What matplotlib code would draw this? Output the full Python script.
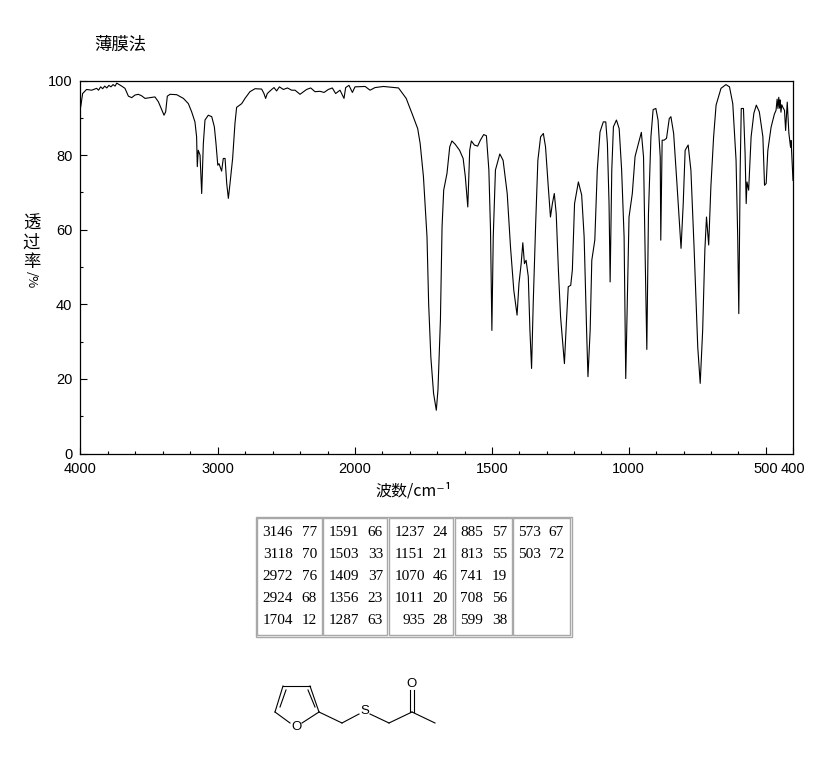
import matplotlib
matplotlib.use("Agg")
import matplotlib.pyplot as plt
import numpy as np

CJK = ['Noto Sans CJK SC', 'DejaVu Sans']
TICK_FONT = 'Liberation Sans'

# spectrum: wavenumber (cm-1) and transmittance (%)
wavenumber = [
    4000, 3993, 3981, 3952, 3915, 3879, 3865, 3850, 3835, 3820, 3805, 3790, 3775, 3760, 3745, 3733,
    3697, 3673, 3648, 3624, 3600, 3576,
    3552, 3527, 3491, 3455, 3430, 3406, 3389, 3377, 3365, 3345, 3297, 3248, 3212, 3188, 3164, 3152,
    3147, 3140, 3127, 3115, 3103, 3091, 3067, 3042, 3023, 3011, 2998, 2989, 2970, 2958, 2945, 2933,
    2921, 2909, 2890, 2873, 2861, 2824, 2800, 2764, 2727, 2679, 2662, 2650, 2638, 2606, 2589, 2570,
    2550, 2521, 2491, 2461, 2436, 2400, 2352, 2322, 2291, 2255, 2225, 2194, 2165, 2141, 2109, 2080,
    2068, 2044, 2019, 2000, 1963, 1945, 1927, 1896, 1841,
    1813, 1792, 1771, 1762, 1750, 1737, 1731, 1723, 1713, 1703, 1697, 1688, 1682, 1676, 1664, 1654,
    1646, 1634, 1618, 1605, 1597, 1588, 1581, 1575, 1564, 1552, 1542, 1530, 1520, 1511, 1505, 1500,
    1495, 1487, 1471, 1459, 1444, 1432, 1420, 1408, 1401, 1393, 1387, 1381, 1375, 1367, 1361, 1355,
    1349, 1340, 1332, 1322, 1312, 1304, 1294, 1286, 1279, 1272, 1265, 1257, 1249, 1235, 1228, 1221,
    1212, 1206, 1198, 1184, 1172, 1163, 1154, 1149, 1141, 1135, 1124, 1115, 1105,
    1093, 1084, 1078, 1072, 1068, 1062, 1056, 1045, 1035, 1026, 1017, 1011, 1005, 999, 987, 977,
    966, 954, 946, 940, 934, 928, 919, 911, 901, 893, 885, 883, 878, 871, 862, 852,
    846, 836, 824, 809, 801, 794, 783, 773, 761, 748, 739, 730, 722, 716, 708, 700,
    690, 681, 663, 645, 632, 620, 608, 602, 598, 593, 589, 581, 575, 571, 568, 562,
    553, 543, 534, 523, 510, 504, 498, 492, 480, 468, 462, 458, 455, 452, 449, 447,
    444, 441, 437, 431, 427, 421, 415, 409, 407, 400,
]
transmittance = [
    92.0, 93.4, 96.5, 97.6, 97.4, 97.9, 97.4, 98.3, 97.8, 98.5, 98.0, 98.7, 98.3, 98.9, 98.5, 99.3,
    98.5, 97.9, 95.8, 95.4, 96.1, 96.3,
    95.9, 95.2, 95.4, 95.6, 94.3, 92.2, 90.7, 91.6, 95.8, 96.3, 96.2, 95.2, 93.8, 91.6, 88.9, 84.9,
    76.9, 81.3, 80.0, 69.7, 83.1, 89.4, 90.7, 90.3, 87.6, 83.1, 77.3, 77.7, 75.7, 79.1, 79.1, 72.4,
    68.4, 72.4, 79.1, 88.5, 92.8, 93.8, 95.2, 97.0, 97.8, 97.7, 96.5, 95.2, 96.5, 97.6, 98.1, 97.2,
    98.3, 97.6, 98.0, 97.4, 97.4, 96.3, 97.6, 98.0, 97.0, 97.1, 96.8, 97.6, 98.0, 96.5, 97.4, 95.2,
    98.1, 98.7, 96.8, 98.3, 98.4, 97.4, 98.1, 98.4, 98.0,
    95.2, 91.2, 87.1, 83.1, 74.2, 58.1, 40.2, 25.9, 16.1, 11.6, 17.0, 35.7, 60.8, 70.6, 75.1, 82.2,
    83.8, 82.9, 81.3, 79.1, 74.2, 66.1, 81.3, 83.8, 82.7, 82.4, 84.0, 85.5, 85.2, 76.0, 59.9, 33.0,
    58.1, 76.0, 80.3, 78.6, 69.7, 55.4, 43.8, 37.1, 45.6, 50.9, 56.5, 50.9, 51.8, 47.4, 33.0, 22.8,
    40.2, 61.7, 78.6, 84.9, 85.8, 82.2, 71.5, 63.4, 67.0, 69.7, 64.3, 49.2, 36.6, 24.1, 34.9, 44.7,
    45.1, 49.2, 67.0, 72.8, 69.3, 58.1, 33.0, 20.6, 33.0, 51.8, 57.2, 76.0, 86.2,
    88.9, 88.9, 83.1, 67.0, 46.0, 76.0, 87.6, 89.4, 87.1, 76.0, 58.1, 20.1, 42.0, 63.4, 69.7, 79.6,
    82.7, 86.1, 79.5, 52.7, 27.9, 64.3, 84.9, 92.2, 92.5, 89.4, 79.5, 57.2, 84.0, 84.0, 84.5, 89.8,
    90.3, 85.8, 72.4, 55.0, 67.0, 81.3, 82.7, 76.0, 54.5, 28.6, 18.8, 33.0, 54.5, 63.4, 55.9, 71.5,
    84.9, 93.4, 97.9, 98.9, 98.3, 93.8, 78.6, 58.1, 37.5, 76.0, 92.5, 92.5, 80.4, 67.0, 72.8, 70.6,
    84.9, 91.2, 93.4, 91.6, 84.9, 71.9, 72.4, 81.2, 87.5, 91.0, 92.0, 95.0, 92.5, 95.5, 92.6, 94.8,
    91.5, 93.5, 92.8, 92.0, 86.6, 94.2, 85.8, 82.1, 83.9, 73.2,
]

x_major = [4000, 3000, 2000, 1500, 1000, 500, 400]
x_minor = [3800, 3600, 3400, 3200, 2800, 2600, 2400, 2200, 1900, 1800, 1700, 1600, 1400, 1300, 1200,
           1100, 900, 800, 700, 600]
y_major = [0, 20, 40, 60, 80, 100]
y_minor = [10, 30, 50, 70, 90]

# peak table, one list per column
peak_columns = [
    [("3146", "77"), ("3118", "70"), ("2972", "76"), ("2924", "68"), ("1704", "12")],
    [("1591", "66"), ("1503", "33"), ("1409", "37"), ("1356", "23"), ("1287", "63")],
    [("1237", "24"), ("1151", "21"), ("1070", "46"), ("1011", "20"), ("935", "28")],
    [("885", "57"), ("813", "55"), ("741", "19"), ("708", "56"), ("599", "38")],
    [("573", "67"), ("503", "72")],
]

W, H = 822, 765


def forward(w):
    # the chart's axis is twice as wide per wavenumber below 2000
    return np.interp(w, [400, 2000, 4000], [400, 2000, 3004.6])


def inverse(v):
    return np.interp(v, [400, 2000, 3004.6], [400, 2000, 4000])


fig = plt.figure(figsize=(W / 100, H / 100), dpi=100, facecolor='white')

# ========================================
# Spectrum
# ========================================
ax = fig.add_axes([80 / W, 1 - 453.5 / H, 713 / W, 373 / H])
ax.set_xscale('function', functions=(forward, inverse))
ax.plot(wavenumber, transmittance, color='black', linewidth=0.8)
ax.set_xlim(4000, 400)
ax.set_ylim(0, 100)
ax.set_xticks(x_major)
ax.set_xticks(x_minor, minor=True)
ax.set_xticklabels([str(v) for v in x_major], family=TICK_FONT, fontsize=10.5)
ax.set_yticks(y_major)
ax.set_yticks(y_minor, minor=True)
ax.set_yticklabels([str(v) for v in y_major], family=TICK_FONT, fontsize=10.5)
ax.tick_params(which='major', direction='in', length=5, width=0.8, color='black')
ax.tick_params(which='minor', direction='in', length=2.5, width=0.8, color='black')
ax.tick_params(axis='x', which='major', pad=6)
ax.tick_params(axis='y', which='major', pad=5.5)
for spine in ax.spines.values():
    spine.set_linewidth(0.9)

# ========================================
# Overlay in pixel coordinates: texts, table, structure
# ========================================
page = fig.add_axes([0, 0, 1, 1], zorder=-1)
page.set_xlim(0, W)
page.set_ylim(H, 0)
page.axis('off')

page.text(120, 45, "薄膜法", family=CJK, fontsize=12.5, ha='center', va='center')
page.text(414, 491, "波数/cm⁻¹", family=CJK, fontsize=11.5, ha='center', va='center')

for char, y in zip("透过率", [224, 243, 262]):
    page.text(31.5, y, char, family=CJK, fontsize=12.5, ha='center', va='center')
page.text(31.5, 280, "/%", family=CJK, fontsize=9.5, rotation=-90, ha='center', va='center')

# peak table
grey = '#a8a8a8'
page.add_patch(plt.Rectangle((255.5, 516.5), 316, 120.5, fill=False, edgecolor=grey, linewidth=1))
cell_edges = [(257, 322), (323, 387), (389, 453), (455, 512), (513, 570)]
wn_right = [293, 359, 425, 483, 541]
t_right = [317, 383, 448, 507, 564]
row_y = [533, 554, 576, 598, 620]
for col, (x0, x1) in enumerate(cell_edges):
    page.add_patch(plt.Rectangle((x0, 518), x1 - x0, 117, fill=False, edgecolor=grey, linewidth=1))
    for (wn, t), y in zip(peak_columns[col], row_y):
        page.text(wn_right[col], y, wn, family='Liberation Serif', fontsize=11, ha='right', va='center')
        page.text(t_right[col], y, t, family='Liberation Serif', fontsize=11, ha='right', va='center')

# structure drawing
bonds = [
    ((290, 723), (275, 712)), ((275, 712), (283, 686)), ((283, 686), (310, 686)),
    ((310, 686), (319, 712)), ((319, 712), (302, 723)),
    ((280, 707), (286, 690)), ((315, 707), (308, 690)),
    ((319, 712), (342, 723)), ((342, 723), (359, 714)),
    ((370, 714), (389, 723)), ((389, 723), (412, 712)), ((412, 712), (435, 723)),
    ((410, 712), (410, 690)), ((414, 712), (414, 690)),
]
for (x0, y0), (x1, y1) in bonds:
    page.plot([x0, x1], [y0, y1], color='black', linewidth=0.8)
page.text(296, 726.5, "O", family='Liberation Sans', fontsize=9.5, ha='center', va='center')
page.text(364.5, 710.5, "S", family='Liberation Sans', fontsize=9.5, ha='center', va='center')
page.text(411.5, 684, "O", family='Liberation Sans', fontsize=9.5, ha='center', va='center')

fig.savefig('out.png', dpi=100)
